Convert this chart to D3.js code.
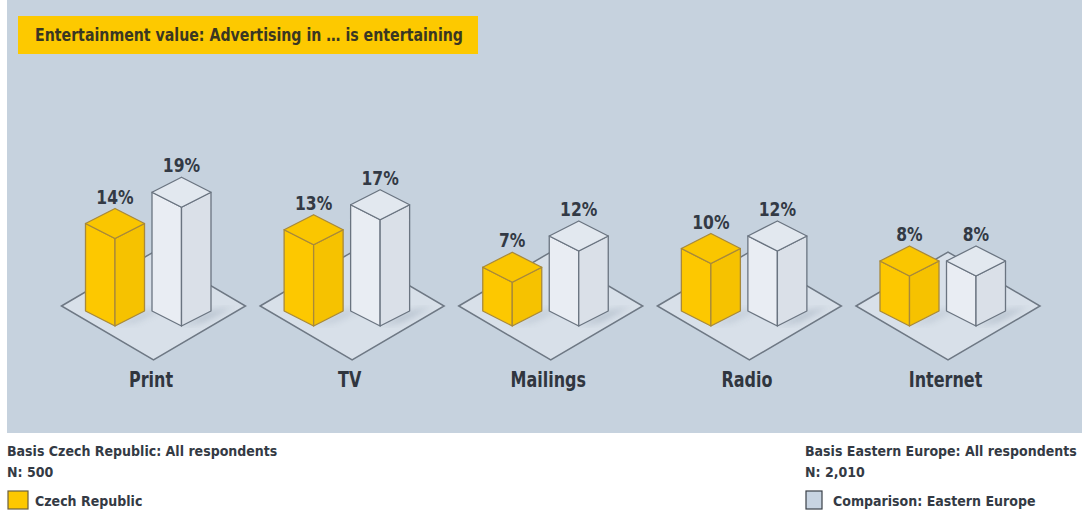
<!DOCTYPE html>
<html>
<head>
<meta charset="utf-8">
<script src="https://cdn.jsdelivr.net/npm/d3@7"></script>
<style>
  html, body { margin: 0; padding: 0; background: #ffffff; }
  svg { display: block; }
  text { font-family: "DejaVu Sans", "Liberation Sans", sans-serif; font-weight: bold; }
</style>
</head>
<body>
<svg id="chart" width="1082" height="516"></svg>
<script>
// Survey results: share of respondents who find advertising in each medium entertaining
const categories = ["Print", "TV", "Mailings", "Radio", "Internet"];
const seriesNames = ["Czech Republic", "Comparison: Eastern Europe"];
const czechValues = [14, 13, 7, 10, 8];
const easternEuropeValues = [19, 17, 12, 12, 8];
const titleText = "Entertainment value: Advertising in \u2026 is entertaining";
const basisLeft = ["Basis Czech Republic: All respondents", "N: 500"];
const basisRight = ["Basis Eastern Europe: All respondents", "N: 2,010"];

const W = 1082, H = 516;
const svg = d3.select("#chart");

// condensed text: drawn at (x, y) and squeezed horizontally
function narrowText(parent, px, py, str, size, squeeze, anchor, fill) {
  return parent.append("text")
    .attr("transform", `translate(${px},${py}) scale(${squeeze},1)`)
    .attr("text-anchor", anchor).attr("font-size", size).attr("fill", fill)
    .text(str);
}

// panel background
svg.append("rect").attr("x", 7).attr("y", 0).attr("width", W - 7).attr("height", 433)
  .attr("fill", "#c6d2de");

// title box
svg.append("rect").attr("x", 18).attr("y", 16).attr("width", 460).attr("height", 38)
  .attr("fill", "#fdc900");
svg.append("text").attr("x", 35).attr("y", 41)
  .attr("font-size", 17).attr("fill", "#3a3722")
  .attr("textLength", 428).attr("lengthAdjust", "spacingAndGlyphs")
  .text(titleText);

// scales
const x = d3.scalePoint().domain(categories).range([153.5, 948]);
const y = d3.scaleLinear().domain([0, 20]).range([326, 201]);
const offset = d3.scaleOrdinal().domain(seriesNames).range([-38.5, 28]);

const halfW = 29.5;   // half width of a column's footprint
const dh = 15;        // vertical depth of the footprint diamond
const floorHalfW = 92, floorHalfH = 54, floorCy = 306;

const styles = {
  "Czech Republic": { left: "#fdc800", right: "#f6c200", top: "#fac600", stroke: "#a8893a" },
  "Comparison: Eastern Europe": { left: "#e9edf3", right: "#dae0e8", top: "#e2e8ef", stroke: "#6a7480" }
};

const data = categories.map((c, i) => ({
  category: c,
  bars: [
    { series: seriesNames[0], value: czechValues[i] },
    { series: seriesNames[1], value: easternEuropeValues[i] }
  ]
}));

const defs = svg.append("defs");
defs.append("filter").attr("id", "soft").append("feGaussianBlur").attr("stdDeviation", 3);

const line = pts => "M" + pts.map(p => p.join(",")).join("L") + "Z";

const groups = svg.selectAll("g.group").data(data).join("g").attr("class", "group");

groups.each(function (d, gi) {
  const g = d3.select(this);
  const cx = x(d.category);
  const floorPts = [
    [cx - floorHalfW, floorCy], [cx, floorCy - floorHalfH],
    [cx + floorHalfW, floorCy], [cx, floorCy + floorHalfH]
  ];
  defs.append("clipPath").attr("id", "floor" + gi).append("path").attr("d", line(floorPts));

  g.append("path").attr("d", line(floorPts))
    .attr("fill", "#d8e0e9").attr("stroke", "#6e7884").attr("stroke-width", 1.5);

  // soft shadows cast to the right of each column
  const sh = g.append("g").attr("clip-path", "url(#floor" + gi + ")");
  d.bars.forEach(b => {
    const bx = cx + offset(b.series);
    const base = y(0);
    sh.append("path")
      .attr("d", line([[bx, base], [bx + halfW, base - dh], [bx + halfW + 22, base - dh - 4], [bx + 22, base - 4]]))
      .attr("fill", "#a9b5c3").attr("opacity", b.series === seriesNames[1] ? 0.7 : 0.45)
      .attr("filter", "url(#soft)");
  });

  d.bars.forEach(b => {
    const st = styles[b.series];
    const bx = cx + offset(b.series);
    const base = y(0), top = y(b.value);
    const bar = g.append("g").attr("stroke", st.stroke).attr("stroke-width", 1.3)
      .attr("stroke-linejoin", "round");
    bar.append("path").attr("fill", st.left)
      .attr("d", line([[bx - halfW, top - dh], [bx, top], [bx, base], [bx - halfW, base - dh]]));
    bar.append("path").attr("fill", st.right)
      .attr("d", line([[bx, top], [bx + halfW, top - dh], [bx + halfW, base - dh], [bx, base]]));
    bar.append("path").attr("fill", st.top)
      .attr("d", line([[bx, top], [bx - halfW, top - dh], [bx, top - 2 * dh], [bx + halfW, top - dh]]));

    narrowText(g, bx, top - 2 * dh - 5, b.value + "%", 19, 0.82, "middle", "#333a45");
  });

  narrowText(g, cx - 2.5, 387, d.category, 20.5, 0.78, "middle", "#30363f");
});

// footer: sample basis and legend
const ink = "#343a44", fs = 14.5, sq = 0.87;
const foot = svg.append("g");
narrowText(foot, 7, 456, basisLeft[0], fs, sq, "start", ink);
narrowText(foot, 7, 477, basisLeft[1], fs, sq, "start", ink);
narrowText(foot, 805, 456, basisRight[0], fs, sq, "start", ink);
narrowText(foot, 805, 477, basisRight[1], fs, sq, "start", ink);

const legend = [
  { name: seriesNames[0], sx: 8, sw: 20, tx: 35, fill: "#fdc800", stroke: "#6b6040" },
  { name: seriesNames[1], sx: 806, sw: 16, tx: 833, fill: "#c8d4e2", stroke: "#3a4048" }
];
legend.forEach(l => {
  svg.append("rect").attr("x", l.sx).attr("y", 491).attr("width", l.sw).attr("height", 18)
    .attr("fill", l.fill).attr("stroke", l.stroke).attr("stroke-width", 1.2);
  narrowText(foot, l.tx, 506, l.name, fs, sq, "start", ink);
});
</script>
</body>
</html>
